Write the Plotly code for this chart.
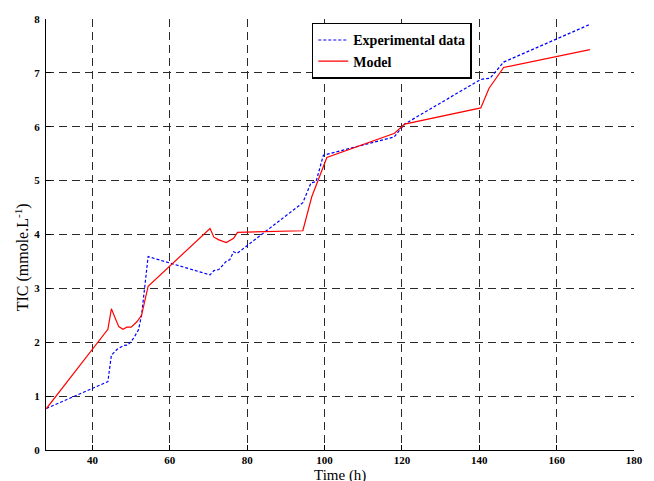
import plotly.graph_objects as go

# Experimental TIC measurements
exp_time = [28.1, 44.0, 44.9, 46.4, 48.1, 49.2, 50.6, 51.9, 52.7, 54.4,
            70.4, 71.4, 72.7, 74.7, 75.5, 76.5, 77.4, 94.4, 96.5, 97.8,
            99.7, 118.0, 120.7, 140.4, 142.8, 146.3, 168.6]
exp_tic = [0.77, 1.27, 1.76, 1.87, 1.94, 1.95, 2.07, 2.23, 2.50, 3.59,
           3.25, 3.33, 3.35, 3.51, 3.53, 3.68, 3.65, 4.59, 4.96, 4.98,
           5.47, 5.81, 6.05, 6.88, 6.90, 7.20, 7.90]

# Model prediction
mod_time = [28.1, 44.0, 44.9, 46.8, 47.9, 48.9, 50.0, 51.5, 52.7, 54.4,
            70.4, 71.4, 72.7, 74.6, 76.5, 77.5, 94.4, 96.7, 100.6, 118.1,
            120.7, 140.4, 142.5, 146.3, 168.6]
mod_tic = [0.77, 2.24, 2.62, 2.29, 2.24, 2.28, 2.28, 2.38, 2.50, 3.04,
           4.11, 3.95, 3.90, 3.85, 3.93, 4.04, 4.07, 4.70, 5.43, 5.88,
           6.05, 6.35, 6.71, 7.10, 7.43]

x_ticks = [40, 60, 80, 100, 120, 140, 160, 180]
y_ticks = [0, 1, 2, 3, 4, 5, 6, 7, 8]

serif = "Liberation Serif, Times New Roman, serif"

fig = go.Figure()
fig.add_trace(go.Scatter(x=exp_time, y=exp_tic, mode="lines",
                         name="Experimental data",
                         line=dict(color="#0000ff", width=1.2, dash="3px,2px")))
fig.add_trace(go.Scatter(x=mod_time, y=mod_tic, mode="lines",
                         name="Model",
                         line=dict(color="#ff0000", width=1.2)))

grid = dict(showgrid=True, gridcolor="#2a2a2a", gridwidth=1, griddash="8px,5px",
            zeroline=False, showline=True, linecolor="black", linewidth=1,
            ticks="inside", ticklen=5, tickcolor="black",
            tickfont=dict(family=serif, size=11, color="black", weight="bold"))

fig.update_xaxes(range=[28, 180], tickvals=x_ticks, ticklabelstandoff=0, **grid)
fig.update_yaxes(range=[0, 8], tickvals=y_ticks, ticklabelstandoff=3, **grid)

fig.update_layout(
    width=654, height=481,
    margin=dict(l=46, r=11, t=19, b=31),
    plot_bgcolor="white", paper_bgcolor="white",
    showlegend=True,
    legend=dict(x=0.452, y=0.991, xanchor="left", yanchor="top",
                bgcolor="white", bordercolor="black", borderwidth=1.5,
                font=dict(family=serif, size=14, color="black", weight="bold"),
                tracegroupgap=0, itemwidth=30),
    annotations=[
        dict(text="Time (h)", xref="paper", yref="paper", x=0.5, y=0,
             yshift=-25, showarrow=False, yanchor="middle", borderpad=0,
             font=dict(family=serif, size=15, color="black")),
        dict(text="TIC (mmole.L<sup>-1</sup>)", xref="paper", yref="paper",
             x=0, xshift=-24, y=0.447, textangle=-90, showarrow=False,
             xanchor="center", yanchor="middle",
             font=dict(family=serif, size=16, color="black")),
    ],
)

fig.write_html("out.html")
